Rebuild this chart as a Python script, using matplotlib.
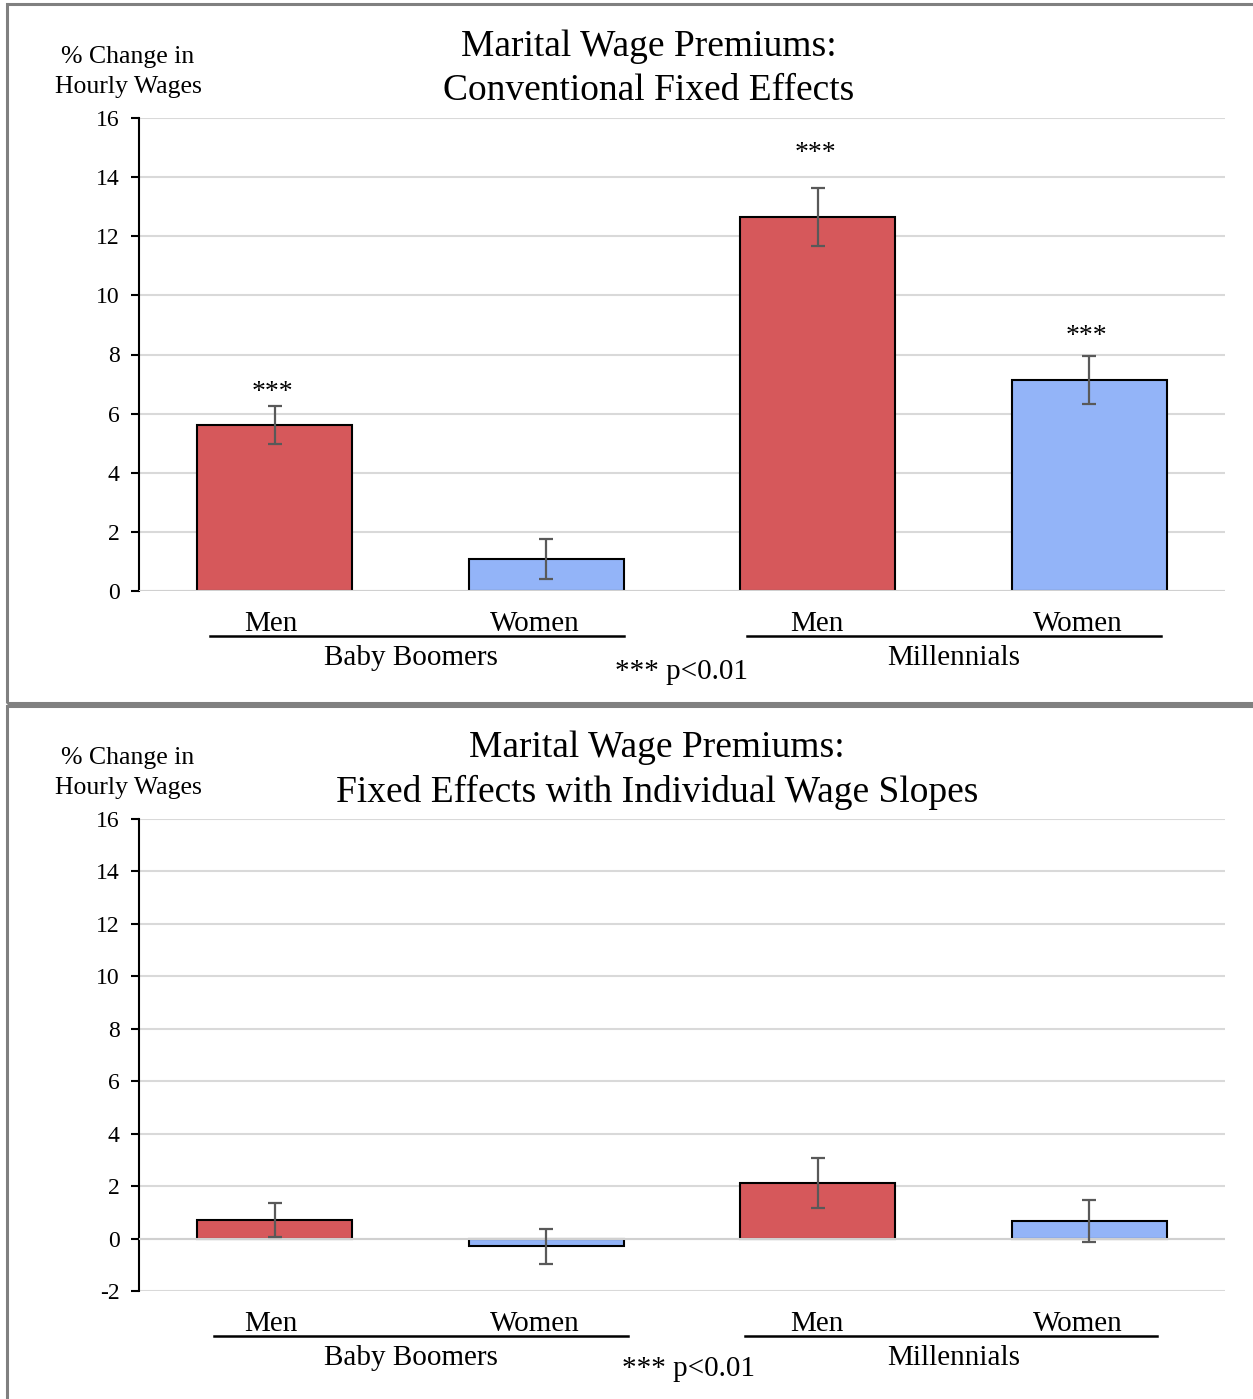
import matplotlib
matplotlib.use("Agg")
import matplotlib.pyplot as plt
from matplotlib.patches import Rectangle
from matplotlib.lines import Line2D

plt.rcParams["font.family"] = ["Liberation Serif", "DejaVu Serif"]

W, H = 1253, 1399

categories = ["Men", "Women", "Men", "Women"]
groups = ["Baby Boomers", "Millennials"]
colors = ["#D6585B", "#93B4F8", "#D6585B", "#93B4F8"]

# Panel 1: conventional fixed effects
fe_values = [5.62, 1.08, 12.65, 7.14]
fe_errors = [0.64, 0.68, 0.97, 0.80]
fe_stars = ["***", "", "***", "***"]
fe_star_levels = [6.70, 0, 14.80, 8.62]

# Panel 2: fixed effects with individual wage slopes
slope_values = [0.71, -0.30, 2.12, 0.67]
slope_errors = [0.65, 0.68, 0.97, 0.80]
slope_stars = ["", "", "", ""]
slope_star_levels = [0, 0, 0, 0]

fig = plt.figure(figsize=(W / 100, H / 100), dpi=100)


def fx(px):
    return px / W


def fy(py):
    return 1 - py / H


def panel_frame(top, bottom):
    rect = Rectangle((fx(6.5), fy(bottom)), fx(1300) - fx(6.5), fy(top) - fy(bottom),
                     transform=fig.transFigure, fill=False, edgecolor="#808080",
                     linewidth=2.2, clip_on=False)
    fig.patches.append(rect)


def draw_panel(top_px, bottom_px, ymin, title, values, errors, stars, star_levels, off):
    left_px, right_px = 139, 1225
    ax = fig.add_axes([fx(left_px), fy(bottom_px), fx(right_px - left_px),
                       fy(top_px) - fy(bottom_px)])
    x = list(range(len(values)))
    ax.bar(x, values, width=0.57, color=colors, edgecolor="black", linewidth=1.5, zorder=3)
    ax.errorbar(x, values, yerr=errors, fmt="none", ecolor="#595959", elinewidth=1.6,
                capsize=5, capthick=1.6, zorder=4)
    for xi, s, lvl in zip(x, stars, star_levels):
        if s:
            ax.text(xi - 0.01, lvl, s, ha="center", va="center", fontsize=20)
    ax.set_xlim(-0.5, 3.5)
    ax.set_ylim(ymin, 16)
    ax.set_yticks(range(ymin, 17, 2))
    ax.set_yticklabels([str(t) for t in range(ymin, 17, 2)], fontsize=17)
    ax.tick_params(axis="y", length=6, width=1.5, direction="out", pad=8)
    ax.set_xticks([])
    ax.grid(axis="y", color="#d9d9d9", linewidth=1.5, zorder=0)
    ax.set_axisbelow(True)
    for side in ["top", "right", "bottom"]:
        ax.spines[side].set_visible(False)
    ax.spines["left"].set_linewidth(1.5)
    ax.axhline(0, color="#d0d0d0", linewidth=1.5, zorder=3.5)

    # title and y label
    fig.text(fx(649 + off[0]), fy(top_px - 49), title, ha="center", va="center",
             fontsize=27, linespacing=1.36)
    fig.text(fx(128), fy(top_px - 46), "% Change in\nHourly Wages", ha="center",
             va="center", fontsize=18.5, linespacing=1.45)

    # category labels
    cat_y = bottom_px + 33 + off[1]
    cat_dx = [-4, -11, -1, -11]
    for xi, c, dx in zip(x, categories, cat_dx):
        px = left_px + (xi + 0.5) * (right_px - left_px) / 4 + dx
        fig.text(fx(px), fy(cat_y), c, ha="center", va="center", fontsize=21)

    # group underlines and labels
    line_y = bottom_px + 45 + off[1]
    spans = [(210 + off[2], 624 + off[2]), (747 - off[2] / 2, 1161 - off[2])]
    label_x = [411, 954]
    for (a, b), g, lx in zip(spans, groups, label_x):
        fig.add_artist(Line2D([fx(a), fx(b)], [fy(line_y), fy(line_y)],
                              transform=fig.transFigure, color="black", linewidth=1.8))
        fig.text(fx(lx), fy(line_y + 22), g, ha="center", va="center", fontsize=21)
    fig.text(fx(681 + off[3]), fy(line_y + 36 + off[4]), "*** p<0.01", ha="center",
             va="center", fontsize=21)
    return ax


panel_frame(4, 702.5)
panel_frame(705.5, 1420)

draw_panel(118, 591, 0, "Marital Wage Premiums:\nConventional Fixed Effects",
           fe_values, fe_errors, fe_stars, fe_star_levels, (0, 0, 0, 0, 0))
draw_panel(819, 1291, -2, "Marital Wage Premiums:\nFixed Effects with Individual Wage Slopes",
           slope_values, slope_errors, slope_stars, slope_star_levels, (8, 0, 4, 8, -3))

fig.savefig("out.png", dpi=100, facecolor="white")
